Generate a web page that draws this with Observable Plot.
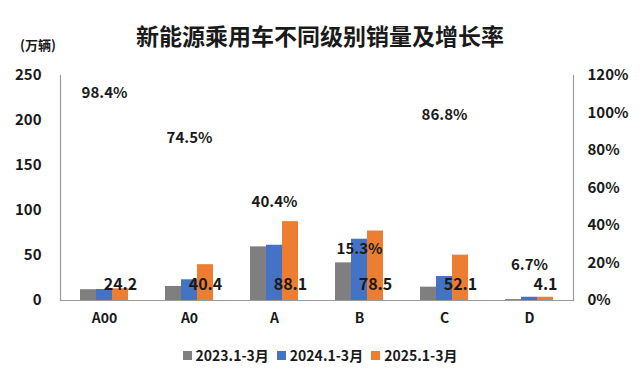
<!DOCTYPE html>
<html><head><meta charset="utf-8">
<script src="https://cdn.jsdelivr.net/npm/d3@7"></script>
<script src="https://cdn.jsdelivr.net/npm/@observablehq/plot@0.6"></script>
<style>
body{margin:0;width:640px;height:372px;background:#fff;font-family:"Noto Sans CJK SC","Noto Sans",sans-serif;position:relative;overflow:hidden;color:#1a1a1a}
#title{position:absolute;left:0;width:640px;top:20px;text-align:center;font-size:23px;font-weight:bold;line-height:30px}
#unit{position:absolute;left:20px;top:36px;font-size:13px;font-weight:bold;line-height:18px}
#chart{position:absolute;left:0;top:60px}
#legend{position:absolute;top:344px;left:0;width:640px;text-align:center;font-size:14px;font-weight:bold;line-height:22px}
#legend span.item{margin:0 4px;white-space:nowrap}
#legend span.sw{display:inline-block;width:9px;height:9px;margin-right:4px;vertical-align:1px}
</style></head>
<body>
<div id="title">新能源乘用车不同级别销量及增长率</div>
<div id="unit">(万辆)</div>
<div id="chart"></div>
<div id="legend"></div>
<script>
const categories = ["A00", "A0", "A", "B", "C", "D"];
const seriesNames = ["2023.1-3月", "2024.1-3月", "2025.1-3月"];
const seriesColors = ["#7f7f7f", "#4472c4", "#ed7d31"];
const sales2023 = [12.0, 15.6, 59.6, 41.8, 14.8, 1.0];
const sales2024 = [12.2, 23.0, 61.4, 68.1, 26.7, 3.6];
const sales2025 = [13.0, 39.8, 87.6, 77.2, 50.4, 3.6];
const labels2025 = ["24.2", "40.4", "88.1", "78.5", "52.1", "4.1"];
const growthPct = [98.4, 74.5, 40.4, 15.3, 86.8, 6.7];
const leftTicks = [0, 50, 100, 150, 200, 250];
const rightTicks = [0, 20, 40, 60, 80, 100, 120];

const yMax = 250, rMax = 120;
const allSeries = [sales2023, sales2024, sales2025];
const rows = allSeries.map((arr, si) => categories.map((c, i) => ({cat: c, series: seriesNames[si], v: arr[i]})));
const growthRows = categories.map((c, i) => ({cat: c, g: growthPct[i], label: growthPct[i].toFixed(1) + "%"}));
const labelRows = categories.map((c, i) => ({cat: c, label: labels2025[i]}));
const toLeft = p => p * yMax / rMax;

const chart = Plot.plot({
  width: 640, height: 280,
  marginLeft: 60, marginRight: 67, marginTop: 15, marginBottom: 40,
  style: {fontFamily: '"Noto Sans CJK SC","Noto Sans",sans-serif', fontSize: "15px", fontWeight: "bold", color: "#1a1a1a", background: "transparent", overflow: "visible"},
  x: {domain: categories, paddingInner: 0.813, paddingOuter: 0.4065, label: null},
  y: {domain: [0, yMax], label: null},
  color: {domain: seriesNames, range: seriesColors},
  marks: [
    Plot.frame({anchor: "left", stroke: "#9a9a9a", strokeWidth: 1.2}),
    Plot.frame({anchor: "right", stroke: "#9a9a9a", strokeWidth: 1.2}),
    Plot.frame({anchor: "bottom", stroke: "#9a9a9a", strokeWidth: 1.2}),
    Plot.barY(rows[0], {x: "cat", y: "v", fill: "series", dx: -16}),
    Plot.barY(rows[1], {x: "cat", y: "v", fill: "series", dx: 0}),
    Plot.barY(rows[2], {x: "cat", y: "v", fill: "series", dx: 16}),
    Plot.text(growthRows, {x: "cat", y: d => toLeft(d.g), text: "label", dy: -23, fontSize: 15, fontWeight: "bold", fill: "#1a1a1a"}),
    Plot.text(labelRows, {x: "cat", y: 0, text: "label", dx: 16, dy: -16, fontSize: 16, fontWeight: "bold", fill: "#1a1a1a"}),
    Plot.axisX({tickSize: 0, tickPadding: 13, fontSize: 14, label: null}),
    Plot.axisY({ticks: leftTicks, tickSize: 0, tickPadding: 19, label: null}),
    Plot.axisY({anchor: "right", ticks: rightTicks.map(toLeft), tickFormat: d => Math.round(d * rMax / yMax) + "%", tickSize: 0, tickPadding: 14, textAnchor: "start", label: null})
  ]
});
document.getElementById("chart").appendChild(chart);

const legend = document.getElementById("legend");
legend.innerHTML = seriesNames.map((s, i) =>
  `<span class="item"><span class="sw" style="background:${seriesColors[i]}"></span>${s}</span>`).join("");
</script>
</body></html>
